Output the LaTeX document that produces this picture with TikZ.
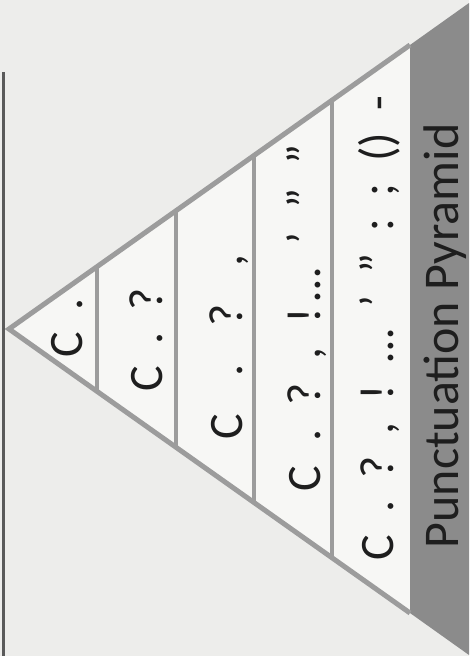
\documentclass[tikz,border=0pt]{standalone}
\usepackage{fontspec}
\setmainfont{Carlito}
\usetikzlibrary{calc}

\definecolor{paper}{HTML}{EDEDEB}
\definecolor{inside}{HTML}{F7F7F5}
\definecolor{edgegray}{HTML}{9C9C9C}
\definecolor{bandgray}{HTML}{8B8B8B}
\definecolor{railgray}{HTML}{5A5A5A}
\definecolor{ink}{HTML}{1E1E1E}

\newcommand{\gp}[1][22pt]{\hspace{#1}}

\begin{document}
\begin{tikzpicture}[
        x=1pt, y=-1pt,
        edge/.style={draw=edgegray, line width=5pt},
        divider/.style={draw=edgegray, line width=3.5pt},
        rail/.style={draw=railgray, line width=3pt},
        row/.style={rotate=90, anchor=base, inner sep=0pt, text=ink,
            font=\fontsize{48}{54}\selectfont}
    ]
        % Page
        \fill[paper] (0,0) rectangle (469,656);
        \useasboundingbox (0,0) rectangle (469,656);

        % Corners
        \coordinate (apex) at (9,329);
        \coordinate (topband) at (410,45);
        \coordinate (botband) at (410,613);
        \coordinate (topend) at (469,3);
        \coordinate (botend) at (469,655);
        \coordinate (railtop) at (3,72);
        \coordinate (railbot) at (3,656);

        % Pyramid
        \fill[inside] (apex) -- (topband) -- (botband) -- cycle;
        \fill[bandgray] (topband) -- (topend) -- (botend) -- (botband) -- cycle;
        \draw[edge] (topband) -- (apex) -- (botband);
        \foreach \f in {0.219,0.416,0.611,0.805}
            \draw[divider] ($(apex)!\f!(topband)$) -- ($(apex)!\f!(botband)$);
        \draw[rail] (railtop) -- (railbot);

        % Rows
        \node[row] (r1) at (82,328) {C\gp.};
        \node[row] (r2) at (162,340) {C\gp.\gp?};
        \node[row] (r3) at (242,347) {C\gp[38pt].\gp[38pt]?\gp[38pt],};
        \node[row] (r4) at (320,318) {C\gp[24pt].\gp[24pt]?\gp[24pt],\gp[24pt]!\gp[6pt]…\gp[24pt]’\gp[24pt]”\gp[24pt]”};
        \node[row] (r5) at (393,328) {C\gp.\gp?\gp,\gp!\gp…\gp’\gp”\gp:\gp;\gp()\gp-};

        % Title
        \node[row, font=\fontsize{50}{56}\selectfont] (title) at (458,336) {Punctuation Pyramid};
    \end{tikzpicture}
\end{document}
